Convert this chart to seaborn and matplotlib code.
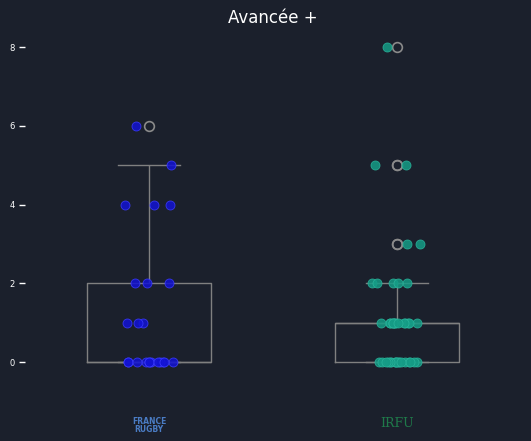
import numpy as np
import pandas as pd
import matplotlib.pyplot as plt
import seaborn as sns

# Avancée + per match
teams = ["France", "Irlande"]
france = [0, 0, 0, 0, 0, 0, 0, 0, 0, 0, 0, 0, 1, 1, 1, 2, 2, 2, 4, 4, 4, 5, 6]
ireland = [0, 0, 0, 0, 0, 0, 0, 0, 0, 0, 0, 0, 0, 0, 0, 0, 0,
           1, 1, 1, 1, 1, 1, 1, 1, 1, 1, 1, 1, 1, 1,
           2, 2, 2, 2, 2, 3, 3, 5, 5, 8]
team_colors = ["#1212d4", "#159c86"]
team_edges = ["#3c3cff", "#2ab59c"]
tick_labels = ["FRANCE\nRUGBY", "IRFU"]
tick_colors = ["#4a7cc4", "#1f7a4a"]

bg = "#1b202c"
df = pd.DataFrame({
    "team": ["France"] * len(france) + ["Irlande"] * len(ireland),
    "value": france + ireland,
})

np.random.seed(7)
fig, ax = plt.subplots(figsize=(5.31, 4.41), dpi=100)
fig.patch.set_facecolor(bg)
ax.set_facecolor(bg)

sns.boxplot(data=df, x="team", y="value", order=teams, width=0.5, fill=False,
            color="#808080", linewidth=1,
            flierprops=dict(marker="o", markersize=7, markerfacecolor="none",
                            markeredgecolor="#8a8a8a", markeredgewidth=1.2),
            ax=ax)
for i, t in enumerate(teams):
    sub = df[df["team"] == t]
    sns.stripplot(x=[i] * len(sub), y=sub["value"].values, native_scale=True,
                  color=team_colors[i], edgecolor=team_edges[i], linewidth=0.6,
                  size=6.5, alpha=0.85, jitter=0.1, ax=ax, zorder=3)

ax.set_xlim(-0.5, 1.5)
ax.set_ylim(-0.4, 8.4)
ax.set_xticks([0, 1])
ax.set_xticklabels(tick_labels)
for lbl, c in zip(ax.get_xticklabels(), tick_colors):
    lbl.set_color(c)
    lbl.set_fontsize(5.5)
    lbl.set_fontweight("bold")
    lbl.set_linespacing(0.9)
ax.get_xticklabels()[1].set_fontsize(9)
ax.get_xticklabels()[1].set_fontweight("normal")
ax.get_xticklabels()[1].set_family("DejaVu Serif")
ax.tick_params(axis="x", length=0, pad=28)
ax.set_yticks([0, 2, 4, 6, 8])
ax.tick_params(axis="y", colors="white", labelsize=6, length=4, width=1)
ax.set_xlabel("")
ax.set_ylabel("")
for s in ax.spines.values():
    s.set_visible(False)
ax.set_title("Avancée +", color="white", fontsize=12)

fig.subplots_adjust(left=0.047, right=0.981, top=0.929, bottom=0.143)
fig.savefig("out.png", dpi=100, facecolor=bg)
